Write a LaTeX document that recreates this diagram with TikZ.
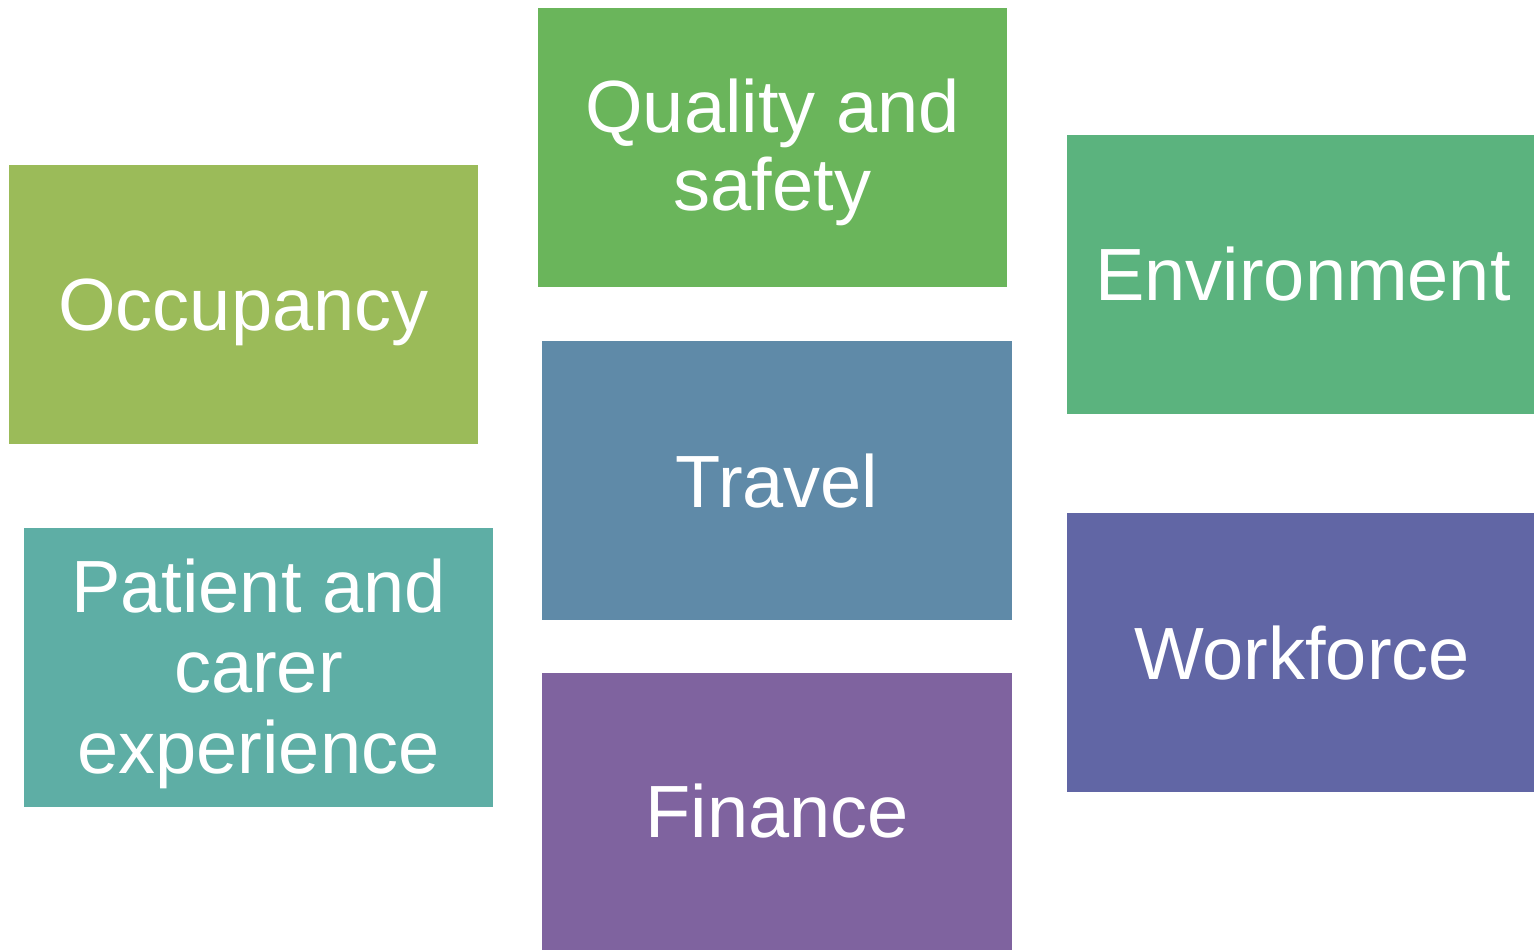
\documentclass[tikz,border=0pt]{standalone}
\usepackage{fontspec}
\setmainfont{Liberation Sans}
\definecolor{cqs}{RGB}{106,181,91}
\definecolor{cocc}{RGB}{155,187,89}
\definecolor{cenv}{RGB}{91,179,126}
\definecolor{ctrav}{RGB}{95,138,168}
\definecolor{cpat}{RGB}{94,174,165}
\definecolor{cwork}{RGB}{97,102,165}
\definecolor{cfin}{RGB}{127,99,159}
\tikzset{
  tile/.style={rectangle, draw=none, inner sep=0pt, outer sep=0pt, minimum width=469pt, minimum height=279pt},
  word/.style={anchor=base, inner sep=0pt, text=white, font=\fontsize{74}{80}\selectfont}
}
\begin{document}
\begin{tikzpicture}[x=1pt,y=-1pt]
\useasboundingbox (0,0) rectangle (1534,950);
\node[tile, fill=cqs] (qs) at (772.5,147.5) {};
\node[tile, fill=cocc] (occ) at (243.5,304.5) {};
\node[tile, fill=cenv, minimum width=467pt] (env) at (1300.5,274.5) {};
\node[tile, fill=ctrav, minimum width=470pt] (trav) at (777,480.5) {};
\node[tile, fill=cpat] (pat) at (258.5,667.5) {};
\node[tile, fill=cwork, minimum width=467pt] (work) at (1300.5,652.5) {};
\node[tile, fill=cfin, minimum width=470pt, minimum height=277pt] (fin) at (777,811.5) {};
\node[word] (qs1) at (772.5,132) {Quality and};
\node[word] (qs2) at (772.5,210) {safety};
\node[word] (occ1) at (243.5,330) {Occupancy};
\node[word] (env1) at (1303,300) {Environment};
\node[word] (trav1) at (777,507) {Travel};
\node[word] (pat1) at (258.5,612) {Patient and};
\node[word] (pat2) at (258.5,692) {carer};
\node[word] (pat3) at (258.5,773) {experience};
\node[word] (work1) at (1302,679) {Workforce};
\node[word] (fin1) at (777,837) {Finance};
\end{tikzpicture}
\end{document}
